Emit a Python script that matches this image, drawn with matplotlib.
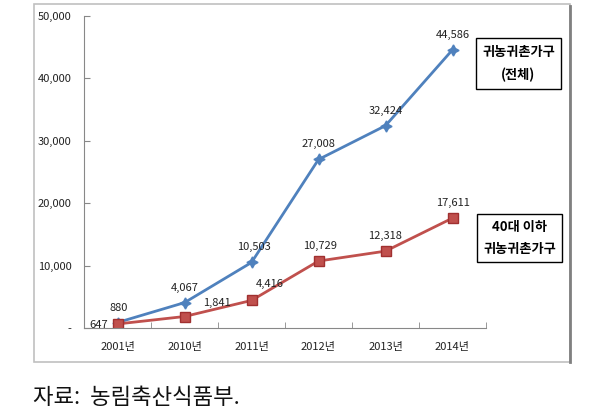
import matplotlib
matplotlib.use("Agg")
import matplotlib.pyplot as plt
from matplotlib.patches import Rectangle
from matplotlib.ticker import FuncFormatter

plt.rcParams['font.family'] = ['Noto Sans CJK KR', 'DejaVu Sans']

years = ['2001년', '2010년', '2011년', '2012년', '2013년', '2014년']
total = [880, 4067, 10503, 27008, 32424, 44586]
under40 = [647, 1841, 4416, 10729, 12318, 17611]
label_total = '귀농귀촌가구\n(전체)'
label_under40 = '40대 이하\n귀농귀촌가구'
source = '자료:  농림축산식품부.'

# label offsets in pixels (layout only)
total_offsets = [(1, 10), (0, 10), (2, 10), (0, 10), (0, 10), (0, 10)]
under40_offsets = [(32, 9), (18, 11), (2, 10), (0, 10), (1, 10)]

W, H = 603, 418
fig = plt.figure(figsize=(W / 100, H / 100), dpi=100)

def fx(px):
    return px / W

def fy(py):
    return 1 - py / H

# chart frame
fig.patches.append(Rectangle((fx(34), fy(362)), fx(570) - fx(34), fy(4) - fy(362),
                             transform=fig.transFigure, fill=False,
                             edgecolor='#c0c0c0', linewidth=1.2))
fig.add_artist(plt.Line2D([fx(570), fx(570)], [fy(6), fy(362)], transform=fig.transFigure,
                          color='#808080', linewidth=2))

ax = fig.add_axes([fx(84), fy(328), fx(486) - fx(84), fy(16) - fy(328)])
x = list(range(len(years)))
star = (4, 1, 0)
ax.plot(x, total, color='#4F81BD', linewidth=2, marker=star, markersize=8,
        markerfacecolor='#4F81BD', markeredgecolor='#4F81BD')
ax.plot(x, under40, color='#C0504D', linewidth=2, marker='s', markersize=6.5,
        markerfacecolor='#C0504D', markeredgecolor='#A03030')

ax.set_xlim(-0.5, len(years) - 0.5)
ax.set_ylim(0, 50000)
ax.set_yticks([0, 10000, 20000, 30000, 40000, 50000])
ax.yaxis.set_major_formatter(FuncFormatter(lambda v, p: '-' if v == 0 else f'{int(v):,}'))
ax.set_xticks(x)
ax.set_xticklabels(years)
ax.set_xticks([i - 0.5 for i in range(len(years) + 1)], minor=True)
ax.tick_params(axis='x', which='major', length=0, pad=10, labelsize=8, colors='#222222')
ax.tick_params(axis='x', which='minor', length=4, direction='in', color='#888888')
ax.tick_params(axis='y', length=4, direction='in', color='#888888', labelsize=8, pad=9,
               colors='#222222')
for s in ['top', 'right']:
    ax.spines[s].set_visible(False)
ax.spines['left'].set_color('#888888')
ax.spines['bottom'].set_color('#888888')
ax.patch.set_alpha(0)

# data labels
for i, v in enumerate(total):
    ax.annotate(f'{v:,}', (i, v), textcoords='offset pixels', xytext=total_offsets[i],
                ha='center', va='bottom', fontsize=8, color='#222222')
for i, v in enumerate(under40):
    if i == 0:
        ax.annotate(f'{v:,}', (i, v), textcoords='offset pixels', xytext=(-10, -1),
                    ha='right', va='center', fontsize=8, color='#222222')
    else:
        ax.annotate(f'{v:,}', (i, v), textcoords='offset pixels', xytext=under40_offsets[i - 1],
                    ha='center', va='bottom', fontsize=8, color='#222222')

# label boxes
fig.text(fx(518.5), fy(63.5), label_total, ha='center', va='center', fontsize=9.5,
         fontweight='bold', linespacing=1.75,
         bbox=dict(boxstyle='square,pad=0.5', facecolor='white', edgecolor='black', linewidth=1))
fig.text(fx(519.5), fy(238), label_under40, ha='center', va='center', fontsize=9.5,
         fontweight='bold', linespacing=1.75,
         bbox=dict(boxstyle='square,pad=0.45', facecolor='white', edgecolor='black', linewidth=1))

fig.text(fx(33), fy(398), source, ha='left', va='center', fontsize=16, color='#111111')

fig.savefig('out.png', dpi=100)
